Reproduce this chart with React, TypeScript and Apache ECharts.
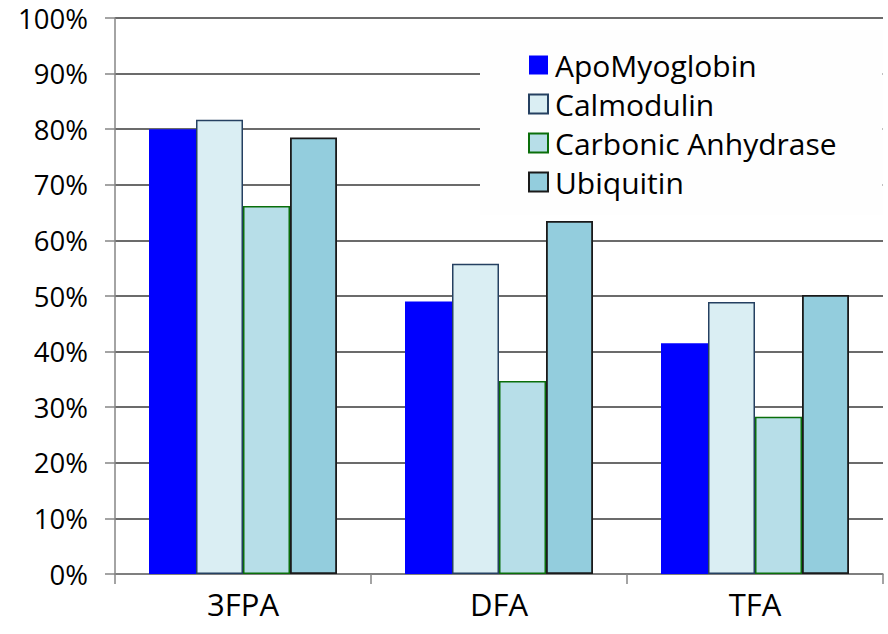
import React, { useEffect, useRef } from "react";
import * as echarts from "echarts";

const categories = ["3FPA", "DFA", "TFA"];
const apoMyoglobin = [80.0, 49.0, 41.5];
const calmodulin = [81.7, 55.8, 48.9];
const carbonicAnhydrase = [66.2, 34.7, 28.3];
const ubiquitin = [78.5, 63.5, 50.2];
const legendNames = ["ApoMyoglobin", "Calmodulin", "Carbonic Anhydrase", "Ubiquitin"];

const FONT = "'Open Sans', 'Noto Sans', sans-serif";

export default function App() {
  const ref = useRef<HTMLDivElement>(null);
  useEffect(() => {
    const chart = echarts.init(ref.current!, null, { renderer: "svg" });
    const mk = (name: string, data: number[], fill: string, border: string, bw: number) => ({
      name,
      type: "bar",
      data,
      barWidth: 47,
      barGap: "0%",
      itemStyle: { color: fill, borderColor: border, borderWidth: bw },
    });
    chart.setOption({
      animation: false,
      grid: { left: 115, right: 5, top: 18, bottom: 60, containLabel: false },
      legend: {
        z: 60,
        orient: "vertical",
        left: 480,
        top: 30,
        padding: [20, 46, 18, 48],
        backgroundColor: "#fefefe",
        itemWidth: 19,
        itemHeight: 19,
        itemGap: 9,
        icon: "rect",
        textStyle: { fontFamily: FONT, fontSize: 30, lineHeight: 30, color: "#000", padding: [0, 0, 0, 2] },
        data: legendNames,
      },
      xAxis: {
        type: "category",
        data: categories,
        axisLine: { lineStyle: { color: "#868686", width: 1.5 } },
        axisTick: { show: true, length: 10, lineStyle: { color: "#868686", width: 1.5 } },
        axisLabel: { fontFamily: FONT, fontSize: 31, color: "#000", margin: 14 },
      },
      yAxis: {
        type: "value",
        min: 0,
        max: 100,
        interval: 10,
        axisLine: { show: true, lineStyle: { color: "#868686", width: 1.5 } },
        axisTick: { show: true, length: 10, lineStyle: { color: "#868686", width: 1.5 } },
        axisLabel: {
          fontFamily: FONT,
          fontSize: 27.5,
          color: "#000",
          margin: 27,
          formatter: "{value}%",
        },
        splitLine: { lineStyle: { color: "#3a3a3a", width: 1.5 } },
      },
      series: [
        mk("ApoMyoglobin", apoMyoglobin, "#0000FF", "#0000FF", 0),
        mk("Calmodulin", calmodulin, "#DAEEF3", "#254061", 1.5),
        mk("Carbonic Anhydrase", carbonicAnhydrase, "#B7DEE8", "#0A6E0A", 1.5),
        mk("Ubiquitin", ubiquitin, "#93CDDD", "#1A1A1A", 1.8),
      ],
    });
    return () => chart.dispose();
  }, []);
  return <div ref={ref} style={{ width: 888, height: 634, position: "absolute", left: 0, top: 0, background: "#fff" }} />;
}
